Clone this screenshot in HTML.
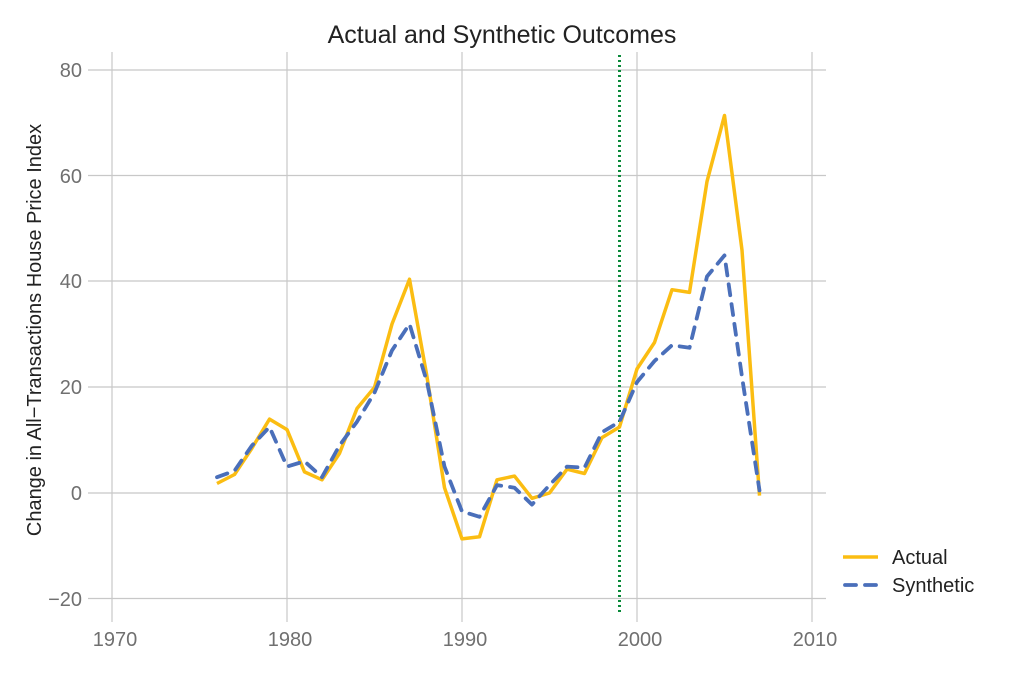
<!DOCTYPE html>
<html><head><meta charset="utf-8"><style>
body{margin:0;background:#fff;}
svg text{font-family:"Liberation Sans",sans-serif;}
</style></head><body>
<svg id="s" width="1013" height="675" xmlns="http://www.w3.org/2000/svg">
<rect width="1013" height="675" fill="#fff"/>
<g stroke="#c8c8c8" stroke-width="1.2">
<line x1="88" x2="826" y1="70" y2="70"/><line x1="88" x2="826" y1="175.5" y2="175.5"/>
<line x1="88" x2="826" y1="281" y2="281"/><line x1="88" x2="826" y1="387" y2="387"/>
<line x1="88" x2="826" y1="493" y2="493"/><line x1="88" x2="826" y1="598.5" y2="598.5"/>
<line x1="112" x2="112" y1="52" y2="622"/><line x1="287" x2="287" y1="52" y2="622"/>
<line x1="462" x2="462" y1="52" y2="622"/><line x1="637" x2="637" y1="52" y2="622"/>
<line x1="812" x2="812" y1="52" y2="622"/>
</g>
<g fill="#707070" font-size="20" text-anchor="end">
<text x="82" y="77">80</text><text x="82" y="183">60</text><text x="82" y="288">40</text>
<text x="82" y="394">20</text><text x="82" y="500">0</text><text x="82" y="606">−20</text>
</g>
<g fill="#707070" font-size="20" text-anchor="middle">
<text x="115" y="646">1970</text><text x="290" y="646">1980</text><text x="465" y="646">1990</text>
<text x="640" y="646">2000</text><text x="815" y="646">2010</text>
</g>
<text x="502" y="43" text-anchor="middle" font-size="25" fill="#222">Actual and Synthetic Outcomes</text>
<text transform="translate(41,330) rotate(-90)" text-anchor="middle" font-size="20" fill="#222">Change in All−Transactions House Price Index</text>
<line x1="619.5" x2="619.5" y1="55" y2="615" stroke="#0a8a3a" stroke-width="3" stroke-dasharray="2,3"/>
<polyline id="a" fill="none" stroke="#fbbd12" stroke-width="3.5" stroke-linejoin="round"/>
<polyline id="b" fill="none" stroke="#4a6fba" stroke-width="3.8" stroke-dasharray="11,9" stroke-linecap="round" stroke-linejoin="round"/>
<line x1="843" x2="878" y1="557" y2="557" stroke="#fbbd12" stroke-width="3.5"/>
<line x1="845" x2="878" y1="585" y2="585" stroke="#4a6fba" stroke-width="3.8" stroke-dasharray="11,9" stroke-linecap="round"/>
<text x="892" y="564" font-size="20" fill="#222">Actual</text>
<text x="892" y="592" font-size="20" fill="#222">Synthetic</text>
</svg>
<script>
var A=[1.8,3.5,8.5,14,12,4,2.5,7.5,16,20,32,40.5,22,1,-8.7,-8.3,2.5,3.2,-1,0,4.5,3.7,10.5,12.5,23.5,28.5,38.5,38,59,71.5,46,-0.5];
var B=[3,4.2,9,12.5,5,6,3,9,13.5,19,27,32,21,5,-3.5,-4.5,1.5,1,-2.2,1.5,5,4.8,11.5,13.5,21,25,28,27.5,41,45,22,0.5];
function p(d){return d.map(function(v,i){return (112+17.5*(i+6)).toFixed(1)+","+(493-5.28*v).toFixed(1)}).join(" ");}
document.getElementById("a").setAttribute("points",p(A));
document.getElementById("b").setAttribute("points",p(B));
</script>
</body></html>
